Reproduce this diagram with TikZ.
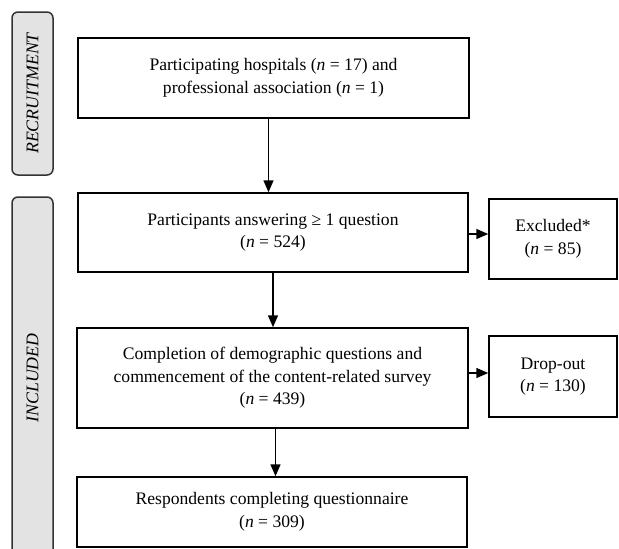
\documentclass[tikz,border=0pt]{standalone}
\usepackage{fontspec}
\setmainfont{Liberation Serif}
\usetikzlibrary{arrows.meta}
\begin{document}
\begin{tikzpicture}[x=1pt,y=-1pt,
  box/.style={draw, line width=1.5pt, align=center, inner sep=0pt, font=\fontsize{17.6}{22.5}\selectfont},
  phase/.style={draw=black!80, fill=black!11, rounded corners=6pt, line width=1.5pt, minimum height=41pt, inner sep=0pt, font=\fontsize{17.8}{22}\selectfont\itshape, rotate=90},
  arr/.style={line width=1.5pt, -{Triangle[length=12pt,width=10pt]}}]
\useasboundingbox (0,0) rectangle (619,549);
% phases
\node[phase, minimum width=163pt] (recruitment) at (32.5,93.5) {RECRUITMENT};
\node[phase, minimum width=362pt] (included) at (32.5,378) {INCLUDED};
% flow
\node[box, minimum width=391pt, minimum height=80pt] (hospitals) at (273.5,78) {Participating hospitals (\textit{n} = 17) and\\professional association (\textit{n} = 1)};
\node[box, minimum width=390pt, minimum height=79pt] (answering) at (273,232.5) {Participants answering ≥ 1 question\\(\textit{n} = 524)};
\node[box, minimum width=128pt, minimum height=80pt] (excluded) at (553,239) {Excluded*\\(\textit{n} = 85)};
\node[box, minimum width=391pt, minimum height=100pt] (demographic) at (272.5,378) {Completion of demographic questions and\\commencement of the content-related survey\\(\textit{n} = 439)};
\node[box, minimum width=128pt, minimum height=81pt] (dropout) at (553,376.5) {Drop-out\\(\textit{n} = 130)};
\node[box, minimum width=390pt, minimum height=70pt] (completed) at (272,512) {Respondents completing questionnaire\\(\textit{n} = 309)};
\draw[arr] ([xshift=-5pt]hospitals.south) -- ([xshift=-5pt]hospitals.south |- answering.north);
\draw[arr] (answering.south) -- (answering.south |- demographic.north);
\draw[arr] ([xshift=3pt]demographic.south) -- ([xshift=3pt]demographic.south |- completed.north);
\draw[arr] ([yshift=-1.5pt]answering.east) -- ([yshift=-1.5pt]answering.east -| excluded.west);
\draw[arr] ([yshift=5pt]demographic.east) -- ([yshift=5pt]demographic.east -| dropout.west);
\end{tikzpicture}
\end{document}
